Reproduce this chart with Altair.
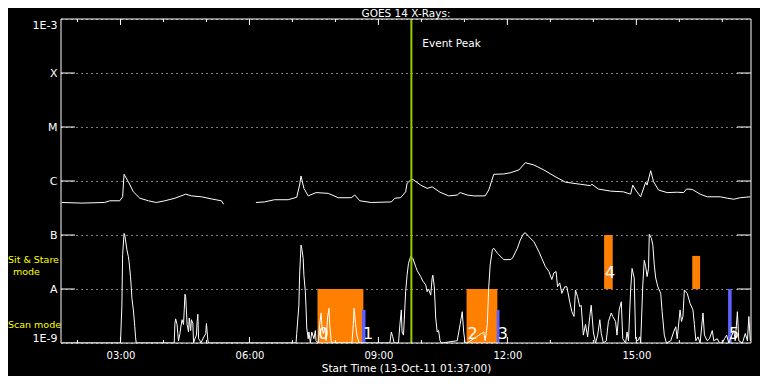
import altair as alt
import pandas as pd

FONT = "DejaVu Sans"
DAY = "2011-10-13T"

# ---- GOES long channel (1-8 A), two segments (data gap) ----
LONG1_TIME = ["01:38", "02:06", "02:38", "02:45", "02:59", "03:03", "03:05", "03:11", "03:18", "03:27",
              "03:39", "03:50", "04:02", "04:16", "04:31", "04:39", "04:53", "05:09", "05:21", "05:24"]
LONG1_FLUX = [4.0e-7, 3.9e-7, 4.0e-7, 4.3e-7, 4.3e-7, 5.1e-7, 1.33e-6, 9.7e-7, 6.3e-7, 4.8e-7,
              4.3e-7, 4.0e-7, 4.3e-7, 4.8e-7, 5.7e-7, 5.3e-7, 5.1e-7, 4.6e-7, 4.3e-7, 3.7e-7]
LONG2_TIME = ["06:09", "06:21", "06:35", "06:54", "07:06", "07:10", "07:12", "07:16", "07:22", "07:33",
              "07:50", "08:04", "08:22", "08:27", "08:34", "08:50", "09:18", "09:23", "09:31", "09:38",
              "09:40", "09:45", "09:48", "09:59", "10:08", "10:15", "10:26", "10:38", "10:50", "10:54",
              "11:04", "11:13", "11:29", "11:34", "11:41", "11:55", "12:04", "12:16", "12:25", "12:37",
              "12:51", "13:05", "13:21", "13:42", "13:56", "13:58", "14:07", "14:24", "14:42", "14:52",
              "14:55", "14:59", "15:06", "15:13", "15:15", "15:20", "15:24", "15:31", "15:43", "15:57",
              "16:06", "16:10", "16:18", "16:29", "16:39", "16:57", "17:07", "17:16", "17:25", "17:39"]
LONG2_FLUX = [4.0e-7, 4.1e-7, 4.5e-7, 4.5e-7, 5.0e-7, 8.4e-7, 1.24e-6, 7.3e-7, 5.3e-7, 6.1e-7,
              5.9e-7, 4.9e-7, 4.9e-7, 5.5e-7, 4.3e-7, 4.0e-7, 4.1e-7, 4.8e-7, 4.9e-7, 6.3e-7,
              9.1e-7, 1.04e-6, 1.07e-6, 8.4e-7, 7.3e-7, 7.8e-7, 6.2e-7, 5.3e-7, 5.5e-7, 6.1e-7,
              5.5e-7, 5.3e-7, 5.3e-7, 6.8e-7, 1.33e-6, 1.35e-6, 1.42e-6, 1.6e-6, 2.18e-6, 1.98e-6,
              1.6e-6, 1.24e-6, 9.5e-7, 8.7e-7, 8.2e-7, 8.7e-7, 7.1e-7, 6.5e-7, 6.3e-7, 5.7e-7,
              8.4e-7, 6.8e-7, 5.1e-7, 9.5e-7, 8.4e-7, 1.55e-6, 9.7e-7, 6.8e-7, 6.1e-7, 6.2e-7,
              6.1e-7, 7.1e-7, 7.0e-7, 5.7e-7, 5.1e-7, 5.1e-7, 4.8e-7, 4.6e-7, 4.9e-7, 5.1e-7]

# ---- GOES short channel (0.5-4 A) ----
SHORT_TIME = ["01:38", "03:00", "03:02", "03:03", "03:05", "03:06", "03:07", "03:09", "03:11", "03:12",
              "03:14", "03:15", "03:16", "03:18", "03:20", "03:21", "03:22",
              "04:15", "04:16", "04:17", "04:19", "04:20", "04:21", "04:23", "04:24", "04:26", "04:28",
              "04:29", "04:30", "04:31", "04:32", "04:33", "04:35", "04:36", "04:38", "04:39", "04:41",
              "04:42", "04:44", "04:46", "04:47", "04:48", "04:49", "04:51", "04:52", "04:59", "05:00",
              "05:02", "05:03",
              "07:05", "07:06", "07:09", "07:10", "07:12", "07:13", "07:15", "07:16", "07:18", "07:19",
              "07:20", "07:22", "07:23", "07:25", "07:27", "07:30", "07:32", "07:33", "07:36", "07:38",
              "07:40", "07:41", "07:43", "07:45", "07:47", "07:49", "07:51", "07:52", "07:54", "07:56",
              "08:23", "08:25", "08:26", "08:28", "08:30", "08:33",
              "09:16", "09:18", "09:20", "09:22", "09:28", "09:30", "09:32", "09:33", "09:35", "09:38",
              "09:40", "09:42", "09:45", "09:48", "09:52", "09:54", "09:59", "10:02", "10:06", "10:08",
              "10:10", "10:13", "10:15", "10:16", "10:18", "10:20", "10:22", "10:24", "10:26", "10:28",
              "10:50", "10:54", "10:57", "10:59", "11:01", "11:04",
              "11:27", "11:29", "11:32", "11:34", "11:36", "11:39", "11:41", "11:46", "11:55", "12:04",
              "12:07", "12:14", "12:18", "12:23", "12:25", "12:30", "12:37", "12:44", "12:48", "12:53",
              "12:58", "13:02", "13:05", "13:08", "13:10", "13:13", "13:16", "13:20", "13:23", "13:27",
              "13:30", "13:33", "13:35", "13:38", "13:41", "13:43", "13:46", "13:49", "13:52", "13:55",
              "13:57", "14:00", "14:03", "14:06", "14:09", "14:11", "14:14", "14:18", "14:21", "14:25",
              "14:27", "14:31", "14:33", "14:36", "14:39", "14:41", "14:45", "14:47", "14:49", "14:52",
              "14:54", "14:57", "14:59", "15:02", "15:05", "15:06", "15:09", "15:11", "15:13", "15:15",
              "15:17", "15:18", "15:21", "15:23", "15:25", "15:27", "15:30", "15:34", "15:36", "15:39",
              "15:42", "15:48", "15:52", "15:55", "15:57", "16:01", "16:03", "16:05", "16:07", "16:11",
              "16:15", "16:19", "16:21", "16:23", "16:26", "16:29", "16:33", "16:35", "16:39", "16:42",
              "16:46", "16:48", "16:53", "16:56", "17:00", "17:03", "17:06", "17:09", "17:16", "17:18",
              "17:21", "17:23", "17:28", "17:32", "17:35", "17:37", "17:39"]
SHORT_FLUX = [1e-9, 1e-9, 5.0e-9, 4.3e-8, 1.07e-7, 1.0e-7, 8.1e-8, 5.3e-8, 4.0e-8, 3.2e-8,
              1.7e-8, 1.1e-8, 6.7e-9, 4.1e-9, 2.0e-9, 1.3e-9, 1e-9,
              1e-9, 2.3e-9, 2.8e-9, 2.2e-9, 1.5e-9, 1.1e-9, 1.5e-9, 1.9e-9, 2.7e-9, 2.2e-9,
              4.1e-9, 8.0e-9, 7.2e-9, 4.1e-9, 2.2e-9, 1.6e-9, 2.9e-9, 1.7e-9, 2.7e-9, 2.3e-9,
              1e-9, 1.2e-9, 1.4e-9, 2.5e-9, 3.4e-9, 1.2e-9, 1.1e-9, 1e-9, 1.5e-9, 2.3e-9,
              1.1e-9, 1e-9,
              1e-9, 1.5e-9, 5.0e-9, 1.8e-8, 6.5e-8, 5.7e-8, 3.7e-8, 1.8e-8, 8.9e-9, 4.4e-9,
              1.9e-9, 1.2e-9, 1.6e-9, 1.0e-9, 1.6e-9, 1.2e-9, 1.7e-9, 1.1e-9, 1e-9, 2.2e-9,
              3.6e-9, 2.2e-9, 1.5e-9, 1.9e-9, 1.1e-9, 2.9e-9, 4.4e-9, 2.2e-9, 1.1e-9, 1e-9,
              1e-9, 2.2e-9, 4.4e-9, 2.3e-9, 1.4e-9, 1e-9,
              1e-9, 1.6e-9, 1.3e-9, 1e-9, 1e-9, 2.2e-9, 4.1e-9, 1.6e-9, 1.4e-9, 8.9e-9,
              1.8e-8, 3.0e-8, 4.0e-8, 3.7e-8, 2.6e-8, 2.2e-8, 1.7e-8, 1.4e-8, 1.2e-8, 8.9e-9,
              1.0e-8, 7.7e-9, 1.6e-8, 1.8e-8, 1.1e-8, 2.9e-9, 1.6e-9, 1.7e-9, 1.1e-9, 1e-9,
              1.1e-9, 2.2e-9, 3.8e-9, 1.6e-9, 1.0e-9, 1e-9,
              1.6e-9, 1.1e-9, 2.2e-9, 1.1e-8, 2.8e-8, 5.3e-8, 5.7e-8, 4.6e-8, 3.5e-8, 3.5e-8,
              3.7e-8, 5.7e-8, 8.1e-8, 1.07e-7, 1.1e-7, 9.3e-8, 7.5e-8, 4.9e-8, 3.7e-8, 2.6e-8,
              2.1e-8, 1.5e-8, 2.0e-8, 2.1e-8, 1.1e-8, 1.3e-8, 8.3e-9, 1.1e-8, 1.1e-8, 5.8e-9,
              3.8e-9, 3.1e-9, 9.6e-9, 7.2e-9, 4.7e-9, 5.0e-9, 1.4e-9, 2.2e-9, 1.3e-9, 3.1e-9,
              5.0e-9, 1.6e-9, 1e-9, 1.4e-9, 2.7e-9, 1.5e-9, 1e-9, 1.1e-9, 2.5e-9, 3.6e-9,
              3.1e-9, 2.5e-9, 1.4e-9, 4.1e-9, 5.8e-9, 1.2e-9, 1e-9, 1.6e-9, 1.1e-9, 9.6e-9,
              2.4e-8, 1.6e-8, 1.2e-9, 1.1e-9, 1.3e-9, 1e-9, 1.2e-8, 3.4e-8, 2.6e-8, 1.7e-8,
              2.4e-8, 1.03e-7, 8.7e-8, 6.5e-8, 2.8e-8, 1.6e-8, 1.1e-8, 8.3e-9, 3.8e-9, 1.4e-9,
              1e-9, 1.1e-9, 1.6e-9, 2.0e-9, 1.2e-9, 4.1e-9, 2.5e-9, 3.1e-9, 9.6e-9, 8.3e-9,
              5.4e-9, 4.1e-9, 2.2e-9, 1.1e-9, 1.3e-9, 1.0e-9, 3.6e-9, 1.4e-9, 1.1e-9, 1.2e-9,
              1.7e-9, 1.1e-9, 1.2e-9, 1.0e-9, 1e-9, 1.2e-9, 1.4e-9, 1e-9, 1.7e-9, 1.1e-9,
              3.8e-9, 1.1e-9, 1e-9, 1.5e-9, 1.1e-9, 3.1e-9, 1.1e-9]

# ---- observation mode blocks ----
BAR_START = ["07:35", "08:37", "11:03", "11:45", "14:15", "16:18", "17:08"]
BAR_END = ["08:39", "08:42", "11:46", "11:49", "14:27", "16:29", "17:13"]
BAR_LOW = [1e-9, 1e-9, 1e-9, 1e-9, 1e-8, 1e-8, 1e-9]
BAR_HIGH = [1e-8, 4.1e-9, 1e-8, 4.1e-9, 1e-7, 4.1e-8, 1e-8]
BAR_MODE = ["stare", "scan", "stare", "scan", "stare", "stare", "scan"]
BAR_LABEL = ["0", "1", "2", "3", "4", "", "5"]
BAR_LABEL_FLUX = [1.2e-9, 1.2e-9, 1.2e-9, 1.2e-9, 1.6e-8, 1.2e-9, 1.2e-9]

EVENT_TIME = "09:46"
EVENT_TEXT_FLUX = 3.0e-4

DECADES = [1e-9, 1e-8, 1e-7, 1e-6, 1e-5, 1e-4, 1e-3]
DECADE_NAMES = ["1E-9", "A", "B", "C", "M", "X", "1E-3"]
HOURS = list(range(2, 18))
X_LABEL_HOURS = [3, 6, 9, 12, 15]

ORANGE = "#FF8000"
BLUE = "#6060FF"
GREEN = "#99CC00"
YELLOW = "#FFFF00"
W, H = 690, 324


def ts(hhmm):
    return DAY + hhmm + ":00"


long_df = pd.DataFrame({
    "t": [ts(t) for t in LONG1_TIME + LONG2_TIME],
    "flux": LONG1_FLUX + LONG2_FLUX,
    "seg": ["a"] * len(LONG1_TIME) + ["b"] * len(LONG2_TIME),
})
short_df = pd.DataFrame({"t": [ts(t) for t in SHORT_TIME], "flux": SHORT_FLUX})
bars_df = pd.DataFrame({
    "t": [ts(t) for t in BAR_START], "end": [ts(t) for t in BAR_END],
    "flux": BAR_LOW, "high": BAR_HIGH, "mode": BAR_MODE,
    "label": BAR_LABEL, "ly": BAR_LABEL_FLUX,
})
event_df = pd.DataFrame({"t": [ts(EVENT_TIME)], "flux": [EVENT_TEXT_FLUX], "label": ["Event Peak"]})
hours_df = pd.DataFrame({"t": [ts(f"{h:02d}:00") for h in HOURS],
                         "major": [h % 3 == 0 for h in HOURS]})
dec_df = pd.DataFrame({"flux": DECADES[1:-1]})
one = pd.DataFrame({"a": [0]})


def dt(h, m=0):
    return alt.DateTime(year=2011, month=10, date=13, hours=h, minutes=m)


x_scale = alt.Scale(domain=[dt(1, 37), dt(17, 40)])
y_scale = alt.Scale(type="log", domain=[1e-9, 1e-3], nice=False)

names_js = "[" + ",".join(f"'{n}'" for n in DECADE_NAMES) + "]"

x_axis = alt.Axis(values=[dt(h) for h in X_LABEL_HOURS], format="%H:%M",
                  title="Start Time (13-Oct-11 01:37:00)", ticks=False, domain=False, grid=False,
                  labelColor="white", labelFont=FONT, labelFontSize=10, labelPadding=7,
                  labelFlush=False, titleColor="white", titleFont=FONT, titleFontSize=10.5,
                  titleFontWeight="normal", titlePadding=3)
y_axis = alt.Axis(values=DECADES, labelExpr=f"{names_js}[round(log(datum.value)/LN10)+9]",
                  title=None, ticks=False, domain=False, grid=True, gridColor="white",
                  gridDash=[1, 4], gridOpacity=1, gridWidth=1, labelColor="white",
                  labelFont=FONT, labelFontSize=11, labelPadding=4, labelFlush=True)


def X(f):
    return alt.X(f, type="temporal", scale=x_scale, axis=x_axis)


def Y(f):
    return alt.Y(f, type="quantitative", scale=y_scale, axis=y_axis)


bars = alt.Chart(bars_df).mark_rect().encode(
    x=X("t"), x2="end:T", y=Y("flux"), y2="high:Q",
    color=alt.Color("mode:N", scale=alt.Scale(domain=["stare", "scan"], range=[ORANGE, BLUE]),
                    legend=None),
)

long_line = alt.Chart(long_df).mark_line(color="white", strokeWidth=1, clip=True).encode(
    x=X("t"), y=Y("flux"), detail="seg:N")
short_line = alt.Chart(short_df).mark_line(color="white", strokeWidth=1, clip=True).encode(
    x=X("t"), y=Y("flux"))

event_rule = alt.Chart(event_df).mark_rule(color=GREEN, strokeWidth=2).encode(x=X("t"))
event_text = alt.Chart(event_df).mark_text(align="left", baseline="alphabetic", dx=11,
                                           color="white", font=FONT, fontSize=10.5).encode(
    x=X("t"), y=Y("flux"), text="label:N")

bar_text = alt.Chart(bars_df).mark_text(align="left", baseline="alphabetic", dx=1,
                                        color="white", font=FONT, fontSize=16).encode(
    x=X("t"), y=alt.Y("ly:Q", scale=y_scale, axis=y_axis), text="label:N")

tick_layers = []
for major, length in [(True, 6), (False, 3)]:
    src = alt.Chart(hours_df).transform_filter(alt.datum.major == major)
    tick_layers.append(src.mark_rule(color="white").encode(
        x=X("t"), y=alt.value(0), y2=alt.value(length)))
    tick_layers.append(src.mark_rule(color="white").encode(
        x=X("t"), y=alt.value(H), y2=alt.value(H - length)))
tick_layers.append(alt.Chart(dec_df).mark_rule(color="white").encode(
    y=Y("flux"), x=alt.value(0), x2=alt.value(14)))
tick_layers.append(alt.Chart(dec_df).mark_rule(color="white").encode(
    y=Y("flux"), x=alt.value(W - 14), x2=alt.value(W)))

frame = alt.Chart(one).mark_rect(filled=False, stroke="white", strokeWidth=1).encode(
    x=alt.value(0), x2=alt.value(W), y=alt.value(0), y2=alt.value(H))


def label(text, x, y, color, size, align="left"):
    return alt.Chart(one).mark_text(text=text, align=align, baseline="alphabetic",
                                    color=color, font=FONT, fontSize=size).encode(
        x=alt.value(x), y=alt.value(y))


title = label("GOES 14 X-Rays:", W / 2, -2, "white", 10.5, "center")
sit1 = label("Sit & Stare", -53, 244, YELLOW, 9.5)
sit2 = label("mode", -48, 256, YELLOW, 9.5)
scan = label("Scan mode", -53, 309, YELLOW, 9.5)

chart = alt.layer(
    bars, long_line, short_line, event_rule, *tick_layers, frame,
    event_text, bar_text, title, sit1, sit2, scan,
).properties(
    width=W, height=H,
    autosize=alt.AutoSizeParams(type="none"),
    padding={"left": 53, "top": 11, "right": 9, "bottom": 33},
).configure(background="black").configure_view(stroke=None)

chart.save("out.html", embed_options={"renderer": "svg", "actions": False})
